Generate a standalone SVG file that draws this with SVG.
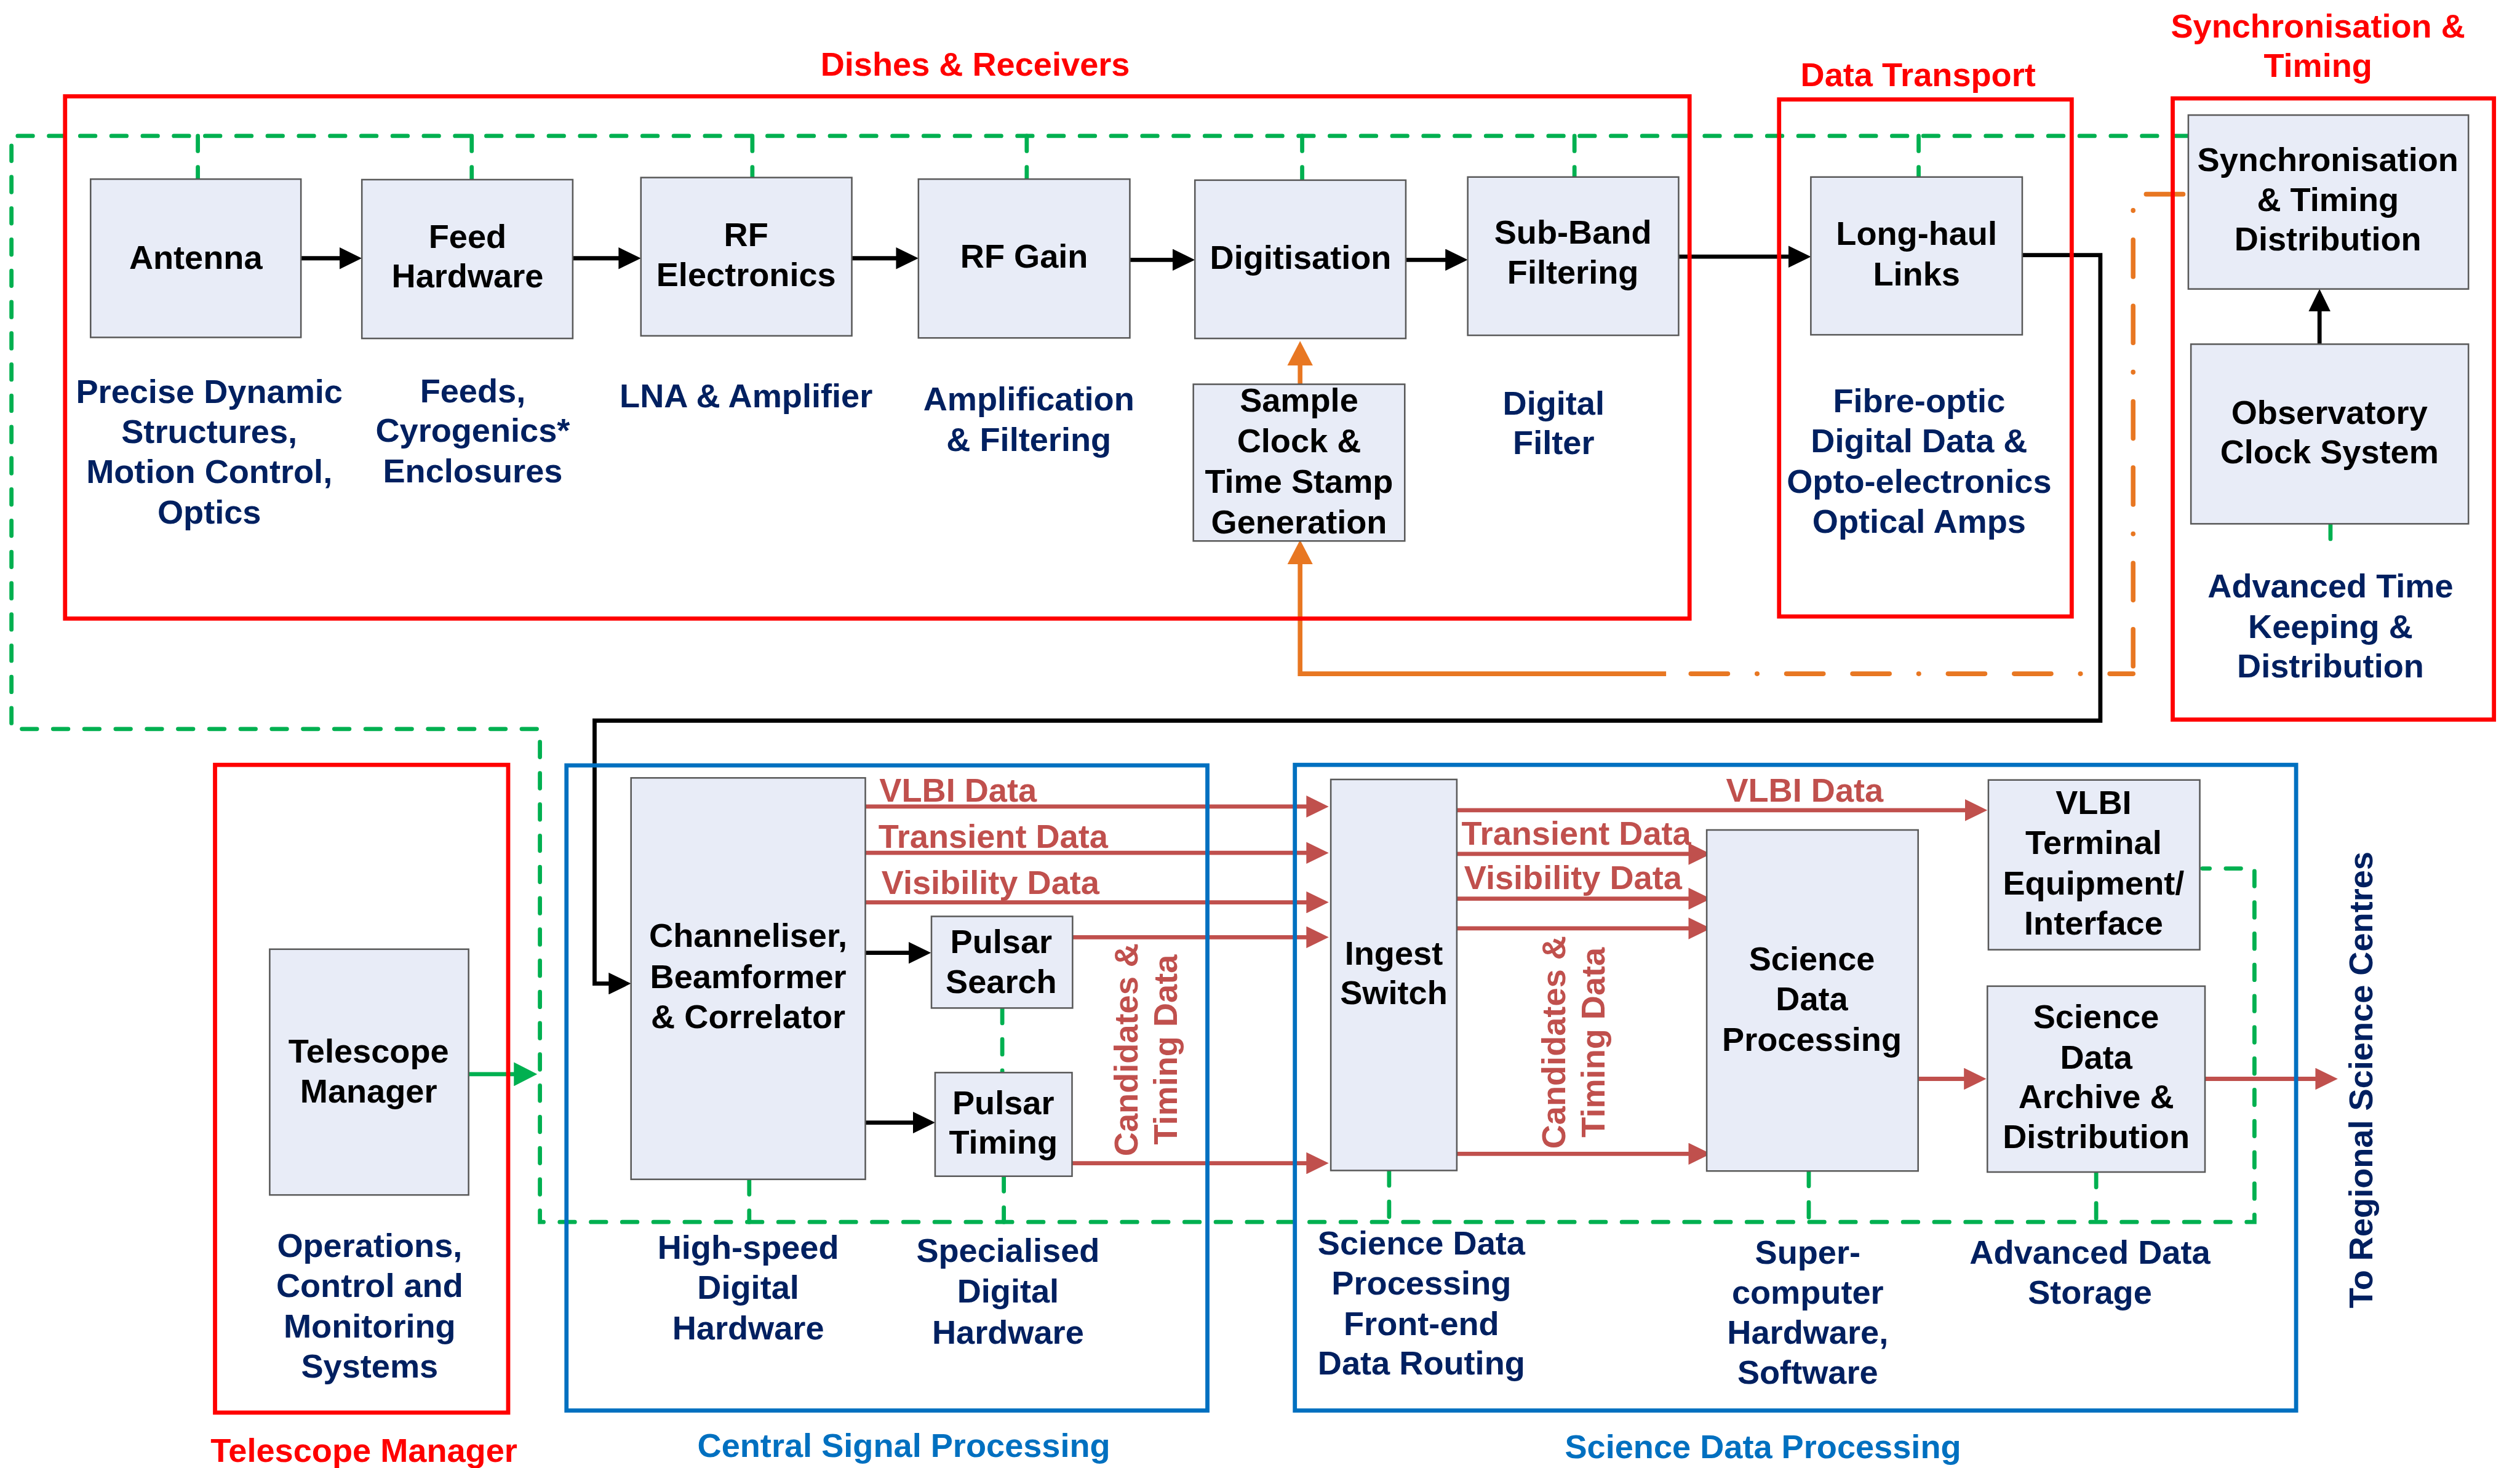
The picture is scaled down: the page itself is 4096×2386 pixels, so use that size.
<svg xmlns="http://www.w3.org/2000/svg" width="4096" height="2386" viewBox="0 0 4096 2386">
  <defs>
    <style>
      text { font-family: "Liberation Sans", Arial, sans-serif; font-weight: bold; font-size: 64px; }
      .box { fill: #E8ECF7; stroke: #595959; stroke-width: 3; }
      .red { fill: none; stroke: #FF0000; stroke-width: 8; }
      .blue { fill: none; stroke: #0070C0; stroke-width: 8; }
      .t { fill: #000000; text-anchor: middle; }
      .lbl { fill: #002060; text-anchor: middle; }
      .ttlr { fill: #FF0000; text-anchor: middle; }
      .ttlb { fill: #0070C0; text-anchor: middle; }
      .dl { fill: #C0504D; }
      .blk { fill: none; stroke: #000000; stroke-width: 8; marker-end: url(#ahK); }
      .rb { fill: none; stroke: #C0504D; stroke-width: 8; marker-end: url(#ahR); }
      .org { fill: none; stroke: #E87722; stroke-width: 9; }
      .dashdot { stroke-dasharray: 71 56 0.5 56 71 56; stroke-linecap: round; }
      .gd { fill: none; stroke: #00B050; stroke-width: 8; stroke-dasharray: 29 31; stroke-linecap: round; }
      .gs { fill: none; stroke: #00B050; stroke-width: 8; marker-end: url(#ahG); }
    </style>
    <marker id="ahK" markerUnits="userSpaceOnUse" markerWidth="43" markerHeight="42" refX="13" refY="21" orient="auto">
      <path d="M0,0 L43,21 L0,42 Z" fill="#000000"/>
    </marker>
    <marker id="ahR" markerUnits="userSpaceOnUse" markerWidth="43" markerHeight="42" refX="13" refY="21" orient="auto">
      <path d="M0,0 L43,21 L0,42 Z" fill="#C0504D"/>
    </marker>
    <marker id="ahO" markerUnits="userSpaceOnUse" markerWidth="47" markerHeight="49" refX="15" refY="24.5" orient="auto">
      <path d="M0,0 L47,24.5 L0,49 Z" fill="#E87722"/>
    </marker>
    <marker id="ahG" markerUnits="userSpaceOnUse" markerWidth="45" markerHeight="46" refX="14" refY="23" orient="auto">
      <path d="M0,0 L45,23 L0,46 Z" fill="#00B050"/>
    </marker>
  </defs>

  <rect x="0" y="0" width="4096" height="2386" fill="#FFFFFF"/>

  <g transform="scale(0.84628)">
    <!-- connectors -->
    <g id="connectors">
      <!-- monitoring & control bus (green dashed) -->
      <path class="gd" d="M4203,261 H22 V1400 H1037 V2347 H4330 V1668 H4230"/>
      <path class="gd" d="M380,261 V344 M906,261 V345 M1445,261 V341 M1972,261 V344 M2501,261 V346 M3024,261 V340 M3685,261 V340"/>
      <path class="gd" d="M4476,1006 V1045"/>
      <path class="gd" d="M1439,2265 V2347 M1928,2259 V2347 M2668,2248 V2347 M3474,2249 V2347 M4026,2251 V2347"/>
      <path class="gd" d="M1925,1936 V2060"/>
      <path class="gs" d="M900,2063 H1001"/>

      <!-- receiver signal chain -->
      <path class="blk" d="M578,496 H665"/>
      <path class="blk" d="M1100,496 H1201"/>
      <path class="blk" d="M1636,496 H1734"/>
      <path class="blk" d="M2170,499 H2265"/>
      <path class="blk" d="M2700,499 H2789"/>
      <path class="blk" d="M3224,493 H3448"/>
      <path class="blk" d="M3884,490 H4034 V1384 H1142 V1889 H1182"/>
      <path class="blk" d="M4455,661 V585"/>
      <path class="blk" d="M1662,1830 H1758"/>
      <path class="blk" d="M1662,2156 H1766"/>

      <!-- timing distribution (orange) -->
      <path class="org" d="M2497,738 V687" marker-end="url(#ahO)"/>
      <path class="org dashdot" d="M4193,373 H4097 V1294"/>
      <path class="org dashdot" d="M4097,1294 H3247" stroke-dashoffset="26"/>
      <path class="org" d="M3200,1294 H2497 V1069" marker-end="url(#ahO)"/>

      <!-- data products -->
      <path class="rb" d="M1662,1549 H2522"/>
      <path class="rb" d="M1662,1638 H2522"/>
      <path class="rb" d="M1662,1733 H2522"/>
      <path class="rb" d="M2060,1800 H2522"/>
      <path class="rb" d="M2059,2234 H2522"/>
      <path class="rb" d="M2798,1556 H3787"/>
      <path class="rb" d="M2798,1640 H3256"/>
      <path class="rb" d="M2798,1726 H3256"/>
      <path class="rb" d="M2798,1783 H3256"/>
      <path class="rb" d="M2793,2216 H3256"/>
      <path class="rb" d="M3684,2072 H3785"/>
      <path class="rb" d="M4235,2072 H4460"/>

      <text class="dl" x="1689" y="1540">VLBI Data</text>
      <text class="dl" x="1687" y="1628">Transient Data</text>
      <text class="dl" x="1693" y="1717">Visibility Data</text>
      <text class="dl" x="2807" y="1622">Transient Data</text>
      <text class="dl" x="2812" y="1708">Visibility Data</text>
      <text class="dl" x="3315" y="1540">VLBI Data</text>
      <text class="dl" text-anchor="middle" transform="translate(2185,2016) rotate(-90)"><tspan x="0" y="0">Candidates &amp;</tspan><tspan x="0" y="76">Timing Data</tspan></text>
      <text class="dl" text-anchor="middle" transform="translate(3006,2002) rotate(-90)"><tspan x="0" y="0">Candidates &amp;</tspan><tspan x="0" y="76">Timing Data</tspan></text>
      <text class="lbl" transform="translate(4557,2074) rotate(-90)">To Regional Science Centres</text>
    </g>

    <!-- subsystem frames -->
    <g id="dishes-receivers">
      <rect class="red" x="125" y="185" width="3120" height="1003"/>
      <text class="ttlr" x="1873" y="145">Dishes &amp; Receivers</text>
    </g>
    <g id="data-transport">
      <rect class="red" x="3417" y="191" width="562" height="993"/>
      <text class="ttlr" x="3684" y="166">Data Transport</text>
    </g>
    <g id="sync-timing">
      <rect class="red" x="4173" y="189" width="617" height="1193"/>
      <text class="ttlr" x="4452" y="72">Synchronisation &amp;</text>
      <text class="ttlr" x="4452" y="148">Timing</text>
    </g>
    <g id="telescope-manager">
      <rect class="red" x="413" y="1469" width="563" height="1244"/>
      <text class="ttlr" x="699" y="2807">Telescope Manager</text>
    </g>
    <g id="central-signal-processing">
      <rect class="blue" x="1088" y="1470" width="1231" height="1239"/>
      <text class="ttlb" x="1736" y="2798">Central Signal Processing</text>
    </g>
    <g id="science-data-processing">
      <rect class="blue" x="2487" y="1469" width="1923" height="1240"/>
      <text class="ttlb" x="3386" y="2800">Science Data Processing</text>
    </g>

    <!-- nodes -->
    <g id="antenna">
      <rect class="box" x="174" y="344" width="404" height="304"/>
      <text class="t" x="376" y="516">Antenna</text>
      <text class="lbl"><tspan x="402" y="774">Precise Dynamic</tspan><tspan x="402" y="851">Structures,</tspan><tspan x="402" y="928">Motion Control,</tspan><tspan x="402" y="1005">Optics</tspan></text>
    </g>
    <g id="feed-hardware">
      <rect class="box" x="695" y="345" width="405" height="305"/>
      <text class="t"><tspan x="898" y="476">Feed</tspan><tspan x="898" y="552">Hardware</tspan></text>
      <text class="lbl"><tspan x="908" y="773">Feeds,</tspan><tspan x="908" y="849">Cyrogenics*</tspan><tspan x="908" y="926">Enclosures</tspan></text>
    </g>
    <g id="rf-electronics">
      <rect class="box" x="1231" y="341" width="405" height="304"/>
      <text class="t"><tspan x="1433" y="473">RF</tspan><tspan x="1433" y="549">Electronics</tspan></text>
      <text class="lbl" x="1433" y="782">LNA &amp; Amplifier</text>
    </g>
    <g id="rf-gain">
      <rect class="box" x="1764" y="344" width="406" height="305"/>
      <text class="t" x="1967" y="514">RF Gain</text>
      <text class="lbl"><tspan x="1976" y="788">Amplification</tspan><tspan x="1976" y="866">&amp; Filtering</tspan></text>
    </g>
    <g id="digitisation">
      <rect class="box" x="2295" y="346" width="405" height="304"/>
      <text class="t" x="2498" y="516">Digitisation</text>
    </g>
    <g id="sample-clock">
      <rect class="box" x="2292" y="738" width="406" height="301"/>
      <text class="t"><tspan x="2495" y="791">Sample</tspan><tspan x="2495" y="869">Clock &amp;</tspan><tspan x="2495" y="947">Time Stamp</tspan><tspan x="2495" y="1024">Generation</tspan></text>
    </g>
    <g id="sub-band-filtering">
      <rect class="box" x="2819" y="340" width="405" height="304"/>
      <text class="t"><tspan x="3021" y="468">Sub-Band</tspan><tspan x="3021" y="545">Filtering</tspan></text>
      <text class="lbl"><tspan x="2984" y="796">Digital</tspan><tspan x="2984" y="872">Filter</tspan></text>
    </g>
    <g id="long-haul-links">
      <rect class="box" x="3478" y="340" width="406" height="303"/>
      <text class="t"><tspan x="3681" y="470">Long-haul</tspan><tspan x="3681" y="548">Links</tspan></text>
      <text class="lbl"><tspan x="3686" y="792">Fibre-optic</tspan><tspan x="3686" y="869">Digital Data &amp;</tspan><tspan x="3686" y="946">Opto-electronics</tspan><tspan x="3686" y="1023">Optical Amps</tspan></text>
    </g>
    <g id="sync-timing-distribution">
      <rect class="box" x="4203" y="221" width="538" height="334"/>
      <text class="t"><tspan x="4471" y="328">Synchronisation</tspan><tspan x="4471" y="405">&amp; Timing</tspan><tspan x="4471" y="481">Distribution</tspan></text>
    </g>
    <g id="observatory-clock">
      <rect class="box" x="4208" y="661" width="533" height="345"/>
      <text class="t"><tspan x="4474" y="814">Observatory</tspan><tspan x="4474" y="890">Clock System</tspan></text>
      <text class="lbl"><tspan x="4476" y="1147">Advanced Time</tspan><tspan x="4476" y="1225">Keeping &amp;</tspan><tspan x="4476" y="1301">Distribution</tspan></text>
    </g>
    <g id="telescope-manager-node">
      <rect class="box" x="518" y="1823" width="382" height="472"/>
      <text class="t"><tspan x="708" y="2041">Telescope</tspan><tspan x="708" y="2118">Manager</tspan></text>
      <text class="lbl"><tspan x="710" y="2414">Operations,</tspan><tspan x="710" y="2491">Control and</tspan><tspan x="710" y="2569">Monitoring</tspan><tspan x="710" y="2646">Systems</tspan></text>
    </g>
    <g id="channeliser">
      <rect class="box" x="1212" y="1494" width="450" height="771"/>
      <text class="t"><tspan x="1437" y="1819">Channeliser,</tspan><tspan x="1437" y="1898">Beamformer</tspan><tspan x="1437" y="1975">&amp; Correlator</tspan></text>
      <text class="lbl"><tspan x="1437" y="2418">High-speed</tspan><tspan x="1437" y="2495">Digital</tspan><tspan x="1437" y="2572">Hardware</tspan></text>
    </g>
    <g id="pulsar-search">
      <rect class="box" x="1789" y="1760" width="271" height="176"/>
      <text class="t"><tspan x="1923" y="1830">Pulsar</tspan><tspan x="1923" y="1907">Search</tspan></text>
    </g>
    <g id="pulsar-timing">
      <rect class="box" x="1796" y="2060" width="263" height="199"/>
      <text class="t"><tspan x="1927" y="2140">Pulsar</tspan><tspan x="1927" y="2215">Timing</tspan></text>
      <text class="lbl"><tspan x="1936" y="2423">Specialised</tspan><tspan x="1936" y="2502">Digital</tspan><tspan x="1936" y="2581">Hardware</tspan></text>
    </g>
    <g id="ingest-switch">
      <rect class="box" x="2556" y="1497" width="242" height="751"/>
      <text class="t"><tspan x="2677" y="1853">Ingest</tspan><tspan x="2677" y="1929">Switch</tspan></text>
      <text class="lbl"><tspan x="2730" y="2409">Science Data</tspan><tspan x="2730" y="2486">Processing</tspan><tspan x="2730" y="2564">Front-end</tspan><tspan x="2730" y="2640">Data Routing</tspan></text>
    </g>
    <g id="science-data-processing-node">
      <rect class="box" x="3278" y="1594" width="406" height="655"/>
      <text class="t"><tspan x="3480" y="1863">Science</tspan><tspan x="3480" y="1940">Data</tspan><tspan x="3480" y="2018">Processing</tspan></text>
      <text class="lbl"><tspan x="3472" y="2427">Super-</tspan><tspan x="3472" y="2504">computer</tspan><tspan x="3472" y="2581">Hardware,</tspan><tspan x="3472" y="2658">Software</tspan></text>
    </g>
    <g id="vlbi-terminal">
      <rect class="box" x="3819" y="1498" width="406" height="326"/>
      <text class="t"><tspan x="4021" y="1563">VLBI</tspan><tspan x="4021" y="1640">Terminal</tspan><tspan x="4021" y="1718">Equipment/</tspan><tspan x="4021" y="1795">Interface</tspan></text>
    </g>
    <g id="science-data-archive">
      <rect class="box" x="3817" y="1894" width="418" height="357"/>
      <text class="t"><tspan x="4026" y="1975">Science</tspan><tspan x="4026" y="2052">Data</tspan><tspan x="4026" y="2128">Archive &amp;</tspan><tspan x="4026" y="2205">Distribution</tspan></text>
      <text class="lbl"><tspan x="4014" y="2427">Advanced Data</tspan><tspan x="4014" y="2504">Storage</tspan></text>
    </g>
  </g>
</svg>
